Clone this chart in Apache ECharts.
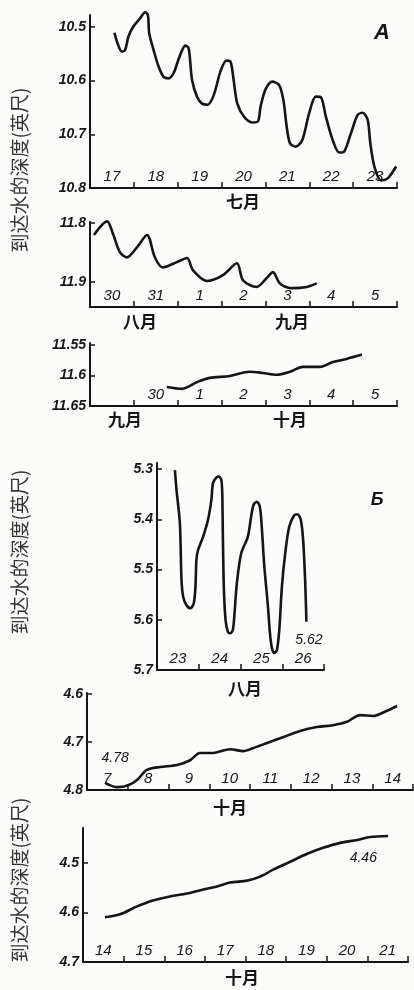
<!DOCTYPE html>
<html>
<head>
<meta charset="utf-8">
<script src="https://cdn.jsdelivr.net/npm/echarts@6/dist/echarts.min.js"></script>
<style>
html,body{margin:0;padding:0;background:#fcfcfb;}
#chart{width:414px;height:990px;}
</style>
</head>
<body>
<div id="chart"></div>
<script>
// ---- category labels (days) ----
const daysA1 = ['17','18','19','20','21','22','23'];
const daysA2 = ['30','31','1','2','3','4','5'];
const daysA3 = ['','30','1','2','3','4','5'];
const daysB1 = ['23','24','25','26'];
const daysB2 = ['7','8','9','10','11','12','13','14'];
const daysB3 = ['14','15','16','17','18','19','20','21'];

// ---- y tick labels (depth to water, ft) ----
const ticksA1 = [10.5, 10.6, 10.7, 10.8];
const ticksA2 = [11.8, 11.9];
const ticksA3 = [11.55, 11.6, 11.65];
const ticksB1 = [5.3, 5.4, 5.5, 5.6, 5.7];
const ticksB2 = [4.6, 4.7, 4.8];
const ticksB3 = [4.5, 4.6, 4.7];

// ---- series: [position in day bands, depth] ----
const depthA1 = [[0.557,10.511],[0.625,10.530],[0.725,10.546],[0.801,10.543],[0.877,10.518],[0.992,10.499],[1.144,10.484],[1.259,10.473],[1.320,10.478],[1.350,10.512],[1.449,10.543],[1.564,10.574],[1.678,10.593],[1.793,10.596],[1.907,10.586],[2.044,10.555],[2.174,10.535],[2.250,10.540],[2.327,10.599],[2.441,10.630],[2.555,10.643],[2.685,10.645],[2.822,10.627],[2.975,10.583],[3.112,10.563],[3.204,10.565],[3.265,10.593],[3.356,10.642],[3.509,10.667],[3.699,10.678],[3.829,10.676],[3.890,10.648],[4.005,10.616],[4.157,10.602],[4.310,10.608],[4.409,10.636],[4.485,10.686],[4.561,10.717],[4.691,10.723],[4.844,10.710],[4.996,10.661],[5.149,10.630],[5.263,10.631],[5.378,10.667],[5.530,10.710],[5.683,10.734],[5.797,10.732],[5.950,10.698],[6.102,10.664],[6.217,10.660],[6.331,10.673],[6.392,10.717],[6.484,10.760],[6.636,10.786],[6.789,10.782],[6.979,10.760]];
const depthA2 = [[0.09,11.820],[0.39,11.797],[0.52,11.817],[0.68,11.849],[0.84,11.858],[1.07,11.841],[1.30,11.820],[1.48,11.858],[1.66,11.875],[1.98,11.866],[2.21,11.859],[2.35,11.880],[2.67,11.898],[3.03,11.888],[3.35,11.868],[3.49,11.897],[3.80,11.908],[4.03,11.893],[4.17,11.883],[4.33,11.902],[4.62,11.910],[4.94,11.908],[5.17,11.902]];
const depthA3 = [[1.75,11.619],[2.10,11.622],[2.44,11.611],[2.73,11.604],[3.19,11.601],[3.64,11.594],[3.94,11.596],[4.26,11.599],[4.56,11.594],[4.85,11.586],[5.24,11.586],[5.54,11.578],[5.85,11.573],[6.20,11.566]];
const depthB1 = [[0.429,5.302],[0.468,5.342],[0.548,5.408],[0.587,5.521],[0.627,5.554],[0.706,5.571],[0.802,5.577],[0.881,5.567],[0.921,5.534],[0.944,5.481],[0.984,5.461],[1.103,5.435],[1.222,5.401],[1.302,5.362],[1.341,5.328],[1.421,5.317],[1.484,5.315],[1.540,5.322],[1.563,5.348],[1.579,5.441],[1.603,5.541],[1.643,5.601],[1.698,5.624],[1.754,5.627],[1.817,5.620],[1.857,5.587],[1.913,5.527],[2.016,5.468],[2.175,5.435],[2.254,5.395],[2.310,5.372],[2.389,5.365],[2.452,5.372],[2.492,5.395],[2.571,5.494],[2.651,5.567],[2.706,5.627],[2.754,5.657],[2.810,5.666],[2.873,5.660],[2.929,5.620],[2.992,5.534],[3.071,5.468],[3.167,5.415],[3.286,5.392],[3.365,5.390],[3.444,5.401],[3.500,5.441],[3.548,5.521],[3.579,5.604]];
const depthB2 = [[0.44,4.785],[0.74,4.794],[1.01,4.790],[1.23,4.779],[1.47,4.758],[1.79,4.752],[2.21,4.748],[2.53,4.738],[2.77,4.723],[3.09,4.723],[3.51,4.715],[3.83,4.719],[4.07,4.713],[4.42,4.702],[4.81,4.690],[5.23,4.677],[5.64,4.669],[6.04,4.665],[6.38,4.658],[6.70,4.644],[7.02,4.646],[7.36,4.635],[7.61,4.625]];
const depthB3 = [[0.54,4.610],[0.91,4.604],[1.33,4.588],[1.72,4.576],[2.14,4.568],[2.56,4.562],[2.96,4.554],[3.30,4.548],[3.62,4.540],[4.04,4.536],[4.36,4.528],[4.68,4.514],[5.10,4.498],[5.52,4.482],[5.91,4.470],[6.33,4.460],[6.75,4.454],[7.07,4.448],[7.51,4.446]];

// ---- annotations ----
const noteB1 = {text:'5.62', at:[3.64, 5.64]};
const noteB2 = {text:'4.78', at:[0.69, 4.733]};
const noteB3 = {text:'4.46', at:[6.9, 4.49]};

const yTitle = '到达水的深度(英尺)';

// ---- layout ----
const panels = [
  {days:daysA1, ticks:ticksA1, data:depthA1, grid:{left:90, top:15, width:307, height:173}, y:[10.478,10.8]},
  {days:daysA2, ticks:ticksA2, data:depthA2, grid:{left:90, top:222, width:307, height:85}, y:[11.798,11.942]},
  {days:daysA3, ticks:ticksA3, data:depthA3, grid:{left:90, top:343, width:307, height:63}, y:[11.547,11.65]},
  {days:daysB1, ticks:ticksB1, data:depthB1, grid:{left:157, top:463, width:167, height:207}, y:[5.288,5.7], note:noteB1},
  {days:daysB2, ticks:ticksB2, data:depthB2, grid:{left:87, top:693, width:326, height:97}, y:[4.598,4.8], note:noteB2},
  {days:daysB3, ticks:ticksB3, data:depthB3, grid:{left:83, top:828, width:325, height:134}, y:[4.43,4.7], note:noteB3}
];

const INK = '#151515';
const numFont = {fontFamily:'Liberation Sans', fontStyle:'italic', fontSize:14, color:INK};

const grid = [], xAxis = [], yAxis = [], series = [];
panels.forEach((p, i) => {
  grid.push(Object.assign({containLabel:false}, p.grid));
  xAxis.push({
    type:'category', gridIndex:i, data:p.days, boundaryGap:true, position:'bottom',
    axisLine:{onZero:false, lineStyle:{color:INK, width:2}},
    axisTick:{show:true, inside:true, length:6, alignWithLabel:false, interval:0, lineStyle:{color:INK, width:1.5}},
    axisLabel:Object.assign({inside:true, margin:4, interval:0}, numFont, {fontSize:15}),
    splitLine:{show:false}
  });
  xAxis.push({type:'value', gridIndex:i, min:0, max:p.days.length, show:false});
  yAxis.push({
    type:'value', gridIndex:i, inverse:true, min:p.y[0], max:p.y[1],
    axisLine:{show:true, onZero:false, lineStyle:{color:INK, width:2}},
    axisTick:{show:true, inside:true, length:5, customValues:p.ticks, lineStyle:{color:INK, width:1.5}},
    axisLabel:Object.assign({margin:4, fontWeight:'bold', customValues:p.ticks, formatter:v=>String(+v.toFixed(2))}, numFont),
    splitLine:{show:false}
  });
  const s = {
    type:'line', xAxisIndex:2*i+1, yAxisIndex:i, data:p.data, smooth:0.3, clip:false,
    showSymbol:false, symbol:'none', lineStyle:{color:INK, width:2.6}, silent:true, animation:false
  };
  if (p.note) {
    s.markPoint = {symbol:'circle', symbolSize:0, silent:true, animation:false,
      data:[{coord:p.note.at, value:p.note.text}],
      label:Object.assign({show:true, position:'inside', formatter:p.note.text}, numFont)};
  }
  series.push(s);
});

const txt = (x, y, text, style) => ({type:'text', x, y, silent:true,
  style:Object.assign({text, fill:INK, align:'center', verticalAlign:'middle'}, style)});
const title = (x, y) => ({type:'text', x, y, rotation:Math.PI/2, silent:true,
  style:{text:yTitle, fill:'#333', font:'19px "Noto Sans CJK SC"', align:'center', verticalAlign:'middle'}});

const graphic = [
  title(20, 170), title(20, 552), title(20, 880),
  txt(243, 202, '七月', {font:'bold 17px "Noto Sans CJK SC"'}),
  txt(140, 322, '八月', {font:'bold 17px "Noto Sans CJK SC"'}),
  txt(292, 322, '九月', {font:'bold 17px "Noto Sans CJK SC"'}),
  txt(125, 420, '九月', {font:'bold 17px "Noto Sans CJK SC"'}),
  txt(290, 420, '十月', {font:'bold 17px "Noto Sans CJK SC"'}),
  txt(245, 689, '八月', {font:'bold 17px "Noto Sans CJK SC"'}),
  txt(230, 808, '十月', {font:'bold 17px "Noto Sans CJK SC"'}),
  txt(242, 978, '十月', {font:'bold 17px "Noto Sans CJK SC"'}),
  txt(382, 33, 'A', {font:'italic bold 22px "Liberation Sans"'}),
  txt(377, 500, 'Б', {font:'italic bold 18px "Liberation Sans"'})
];

const chart = echarts.init(document.getElementById('chart'), null, {renderer:'canvas'});
chart.setOption({animation:false, backgroundColor:'#fcfcfb', grid, xAxis, yAxis, series, graphic});
</script>
</body>
</html>
